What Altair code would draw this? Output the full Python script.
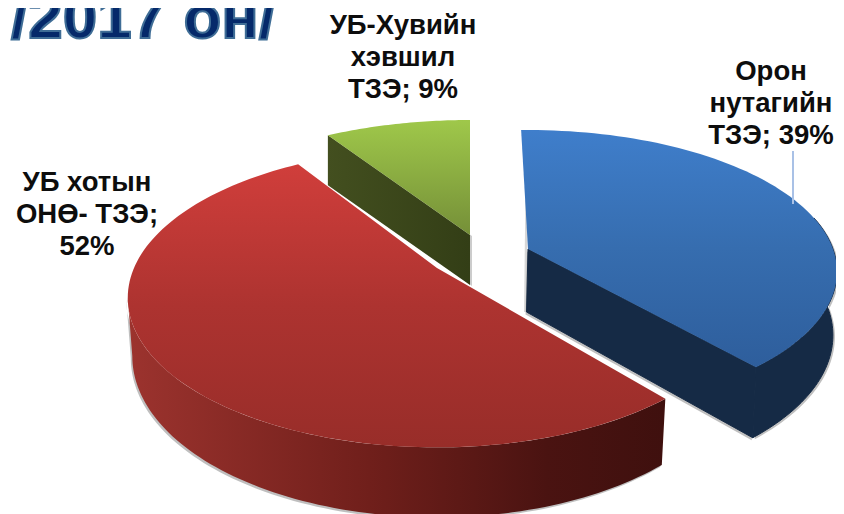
import numpy as np
import pandas as pd
import altair as alt

# --- values
slice_names = ["Орон\nнутагийн\nТЗЭ", "УБ хотын\nОНӨ- ТЗЭ", "УБ-Хувийн\nхэвшил\nТЗЭ"]
slice_shares = [39, 52, 9]
title_text = "/2017 он/"

W, H = 828, 506
X_DOM = [8, 8 + W]
Y_DOM = [8 + H, 8]
FONT = "Liberation Sans"


def theta_bounds():
    c = np.cumsum([0] + slice_shares) * 3.6
    return [(c[i], c[i + 1]) for i in range(len(slice_shares))]


bounds = theta_bounds()


def rim_point(th, apex, a, b, k, rot):
    t = np.radians(np.asarray(th, dtype=float) + rot)
    u, v = np.sin(t), -np.cos(t)
    w = 1 - k * v
    return apex[0] + a * u / w, apex[1] + b * v / w, w


def drop(x, y, w, d, cx=430.0, shrink=0.985):
    return cx + (np.asarray(x) - cx) * shrink, np.asarray(y) + d / w


def poly(xs, ys, fill, opacity=1.0, stroke=None):
    df = pd.DataFrame({"i": np.arange(len(xs)), "x": xs, "y": ys})
    style = dict(stroke=stroke, strokeWidth=1) if stroke else dict(strokeWidth=0)
    return (
        alt.Chart(df)
        .mark_line(interpolate="linear-closed", fill=fill, opacity=opacity, **style)
        .encode(
            x=alt.X("x:Q", scale=alt.Scale(domain=X_DOM, nice=False, zero=False), axis=None),
            y=alt.Y("y:Q", scale=alt.Scale(domain=Y_DOM, nice=False, zero=False), axis=None),
            order="i:Q",
        )
    )


def vgrad(stops):
    return alt.Gradient(gradient="linear", x1=0, x2=0, y1=0, y2=1,
                        stops=[alt.GradientStop(offset=o, color=c) for o, c in stops])


def hgrad(stops):
    return alt.Gradient(gradient="linear", x1=0, x2=1, y1=0, y2=0,
                        stops=[alt.GradientStop(offset=o, color=c) for o, c in stops])


layers = []

# ---- green slice
g = dict(apex=(470, 235), a=310, b=138, k=0.2, rot=0)
t0, t1 = bounds[2]
xs, ys, ws = rim_point(np.linspace(t0, t1, 40), **g)
lx, ly, lw = rim_point([t0], **g)
lbx, lby = drop(lx, ly, 1.0, 50, shrink=1.0)
abx, aby = drop([g["apex"][0]], [g["apex"][1]], 1.0, 50, shrink=1.0)
wx = [lx[0], g["apex"][0], abx[0], lbx[0]]
wy = [ly[0], g["apex"][1], aby[0], lby[0]]
layers.append(poly([v + 2 for v in wx], [v + 1 for v in wy], "#9a9a9a", 0.5))
layers.append(poly(wx, wy, hgrad([(0, "#434f1f"), (1, "#333e16")])))
layers.append(poly(np.r_[g["apex"][0], xs], np.r_[g["apex"][1], ys],
                   vgrad([(0, "#9fc84a"), (1, "#758f38")])))

# ---- red slice
r = dict(apex=(437, 268), a=303, b=143.5, k=0.2, rot=0)
t0, t1 = bounds[1]
xs, ys, ws = rim_point(np.linspace(t0, t1, 120), **r)
rt = np.linspace(t0, 258.5, 90)
tx, ty, tw = rim_point(rt, **r)
bx, by = drop(tx, ty, tw, 56)
rimx = np.r_[tx, bx[::-1]]
rimy = np.r_[ty, by[::-1]]
layers.append(poly(rimx - 1.5, rimy + 2, "#8a8a8a", 0.55))
layers.append(poly(rimx, rimy,
                   hgrad([(0, "#9c332e"), (0.45, "#701f1b"), (0.78, "#4a1311"), (1, "#3f100e")])))
layers.append(poly(np.r_[r["apex"][0], xs], np.r_[r["apex"][1], ys],
                   vgrad([(0, "#d03e3b"), (0.5, "#ad3330"), (1, "#982d29")])))

# ---- blue slice
b_ = dict(apex=(528, 249), a=305, b=138, k=0.16, rot=-1.5)
t0, t1 = bounds[0]
xs, ys, ws = rim_point(np.linspace(t0, t1, 80), **b_)
rt = np.linspace(78, t1, 60)
tx, ty, tw = rim_point(rt, **b_)
bx, by = drop(tx, ty, tw, 62, shrink=0.99)
rimx = np.r_[tx, bx[::-1]]
rimy = np.r_[ty, by[::-1]]
ex, ey, ew = rim_point([t1], **b_)
ebx, eby = drop(ex, ey, ew, 62, shrink=0.99)
abx, aby = drop([b_["apex"][0]], [b_["apex"][1]], 1.0, 63)
wx = np.array([b_["apex"][0], ex[0], ebx[0], abx[0]])
wy = np.array([b_["apex"][1], ey[0], eby[0], aby[0]])
layers.append(poly(wx - 1, wy + 2.5, "#8a8a8a", 0.55))
layers.append(poly(rimx + 2, rimy + 1.5, "#8a8a8a", 0.55))
wedge_left_x = [b_["apex"][0] - 2.5, b_["apex"][0], abx[0], abx[0] - 2.5]
wedge_left_y = [b_["apex"][1] - 60, b_["apex"][1] - 60, aby[0], aby[0]]
layers.append(poly(wedge_left_x, wedge_left_y, "#9a9a9a", 0.4))
layers.append(poly(rimx, rimy, "#152a45", stroke="#152a45"))
layers.append(poly(wx, wy, "#152a45", stroke="#152a45"))
layers.append(poly(np.r_[b_["apex"][0], xs], np.r_[b_["apex"][1], ys],
                   vgrad([(0, "#3f7ecb"), (0.5, "#366daf"), (1, "#2e5e9c")])))

# ---- leader line
layers.append(
    alt.Chart(pd.DataFrame({"a": [0]}))
    .mark_rule(stroke="#a9c1e6", strokeWidth=2)
    .encode(x=alt.value(793 - 8), y=alt.value(151 - 8), y2=alt.value(204 - 8))
)


# ---- labels
def label(text, px, py):
    return (
        alt.Chart(pd.DataFrame({"t": [text]}))
        .mark_text(font=FONT, fontWeight="bold", fontSize=27.5, color="#0d0d0d", lineBreak="\n",
                   lineHeight=32, align="center", baseline="middle")
        .encode(text="t:N", x=alt.value(px - 8), y=alt.value(py - 8))
    )


layers.append(label(f"{slice_names[0]}; {slice_shares[0]}%", 771, 72))
layers.append(label(f"{slice_names[1]};\n{slice_shares[1]}%", 87, 183))
layers.append(label(f"{slice_names[2]}; {slice_shares[2]}%", 403, 26))

# ---- cropped headline
layers.append(
    alt.Chart(pd.DataFrame({"t": [title_text]}))
    .mark_text(font=FONT, fontWeight="bold", fontSize=62, color="#05296a", stroke="#3f6d96",
               strokeWidth=2, align="left", baseline="alphabetic")
    .encode(text="t:N", x=alt.value(11 - 8), y=alt.value(38 - 8))
)

chart = (
    alt.layer(*layers)
    .properties(width=W, height=H, padding=0, autosize=alt.AutoSizeParams(type="none"))
    .configure_view(stroke=None)
)
chart.save("out.html", embed_options={"renderer": "svg", "actions": False})
